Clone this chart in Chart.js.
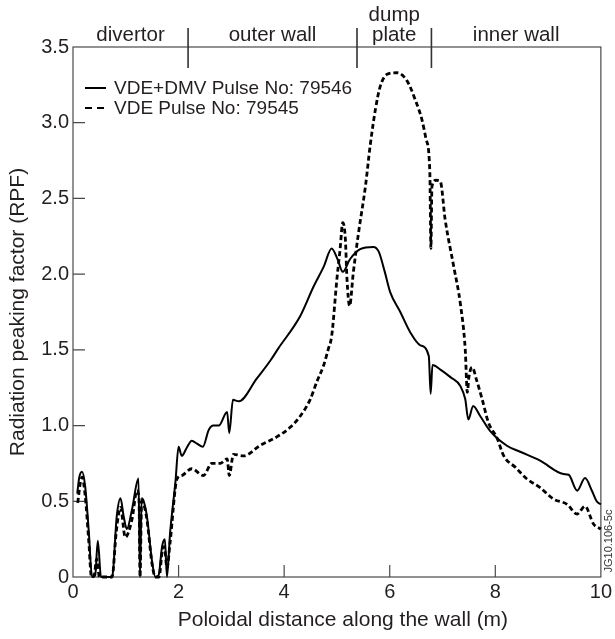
<!DOCTYPE html>
<html><head><meta charset="utf-8">
<script src="https://cdn.jsdelivr.net/npm/chart.js@4.4.1/dist/chart.umd.min.js"></script>
<style>html,body{margin:0;padding:0;background:#fff}canvas{display:block}</style>
</head><body>
<canvas id="c" width="615" height="639"></canvas>
<script>
// ---- data ----
const seriesLabels = ['VDE+DMV Pulse No: 79546', 'VDE Pulse No: 79545'];

const solidX = [0.08,0.12,0.17,0.23,0.30,0.36,0.42,0.47,0.53,0.74,0.83,0.90,0.96,1.02,1.12,1.24,1.27,1.30,1.34,1.40,1.50,1.56,1.62,1.69,1.74,1.78,1.84,1.94,2.00,2.06,2.15,2.25,2.35,2.46,2.57,2.66,2.76,2.92,2.96,3.03,3.14,3.48,3.74,3.89,4.30,4.56,4.75,4.90,5.01,5.11,5.25,5.44,5.69,5.79,5.91,6.01,6.20,6.39,6.58,6.74,6.775,6.81,6.96,7.15,7.34,7.43,7.49,7.58,7.71,7.90,8.22,8.47,8.85,9.29,9.39,9.55,9.70,9.83,9.92,10.0];
const solidY = [0.55,0.66,0.695,0.60,0.295,0,0.01,0.24,0,0,0.405,0.52,0.40,0.317,0.45,0.65,0,0.52,0.50,0.40,0.097,0,0.01,0.207,0.25,0,0.295,0.625,0.86,0.80,0.85,0.90,0.88,0.86,0.97,1.00,1.00,1.09,0.95,1.17,1.16,1.31,1.43,1.51,1.72,1.92,2.05,2.17,2.10,2.015,2.10,2.165,2.18,2.15,2.01,1.88,1.75,1.615,1.53,1.46,1.21,1.40,1.37,1.32,1.26,1.175,1.04,1.13,1.065,0.965,0.867,0.827,0.768,0.68,0.675,0.57,0.653,0.57,0.50,0.48];

const dashX = [0.09,0.14,0.17,0.23,0.30,0.35,0.40,0.45,0.50,0.74,0.82,0.90,0.99,1.12,1.21,1.25,1.27,1.30,1.34,1.40,1.50,1.56,1.63,1.69,1.73,1.78,1.84,1.97,2.06,2.25,2.47,2.63,2.79,2.92,2.96,3.04,3.23,3.55,3.86,4.12,4.30,4.49,4.62,4.75,4.84,4.90,5.00,5.06,5.11,5.16,5.19,5.24,5.31,5.41,5.54,5.63,5.73,5.82,5.95,6.14,6.33,6.48,6.61,6.69,6.76,6.78,6.80,6.88,6.96,7.05,7.21,7.34,7.43,7.47,7.50,7.56,7.65,7.75,7.87,8.03,8.16,8.38,8.60,8.85,9.10,9.36,9.55,9.70,9.86,10.0];
const dashY = [0.49,0.625,0.66,0.54,0.23,0,0.01,0.12,0,0,0.30,0.46,0.262,0.385,0.57,0.52,0,0.50,0.48,0.38,0.08,0,0,0.17,0.20,0.06,0.23,0.647,0.67,0.715,0.67,0.75,0.75,0.78,0.67,0.81,0.80,0.87,0.925,0.99,1.06,1.17,1.29,1.40,1.51,1.59,1.97,2.165,2.34,2.23,1.97,1.79,2.01,2.275,2.58,2.85,3.09,3.24,3.32,3.33,3.275,3.155,3.02,2.89,2.67,2.17,2.58,2.62,2.61,2.36,2.055,1.80,1.505,1.22,1.32,1.385,1.295,1.175,1.02,0.92,0.80,0.724,0.647,0.59,0.515,0.48,0.416,0.467,0.35,0.317];

const xTickValues = [0, 2, 4, 6, 8, 10];
const yTickValues = [0, 0.5, 1.0, 1.5, 2.0, 2.5, 3.0, 3.5];
const regionNames = [['divertor'], ['outer wall'], ['dump', 'plate'], ['inner wall']];
const regionBounds = [0, 2.18, 5.38, 6.79, 10];
const xTitle = 'Poloidal distance along the wall (m)';
const yTitle = 'Radiation peaking factor (RPF)';
const figureId = 'JG10.106-5c';

const INK = '#231f20';
const FONT = '"Liberation Sans", Arial, Helvetica, sans-serif';

const toPts = (xs, ys) => xs.map((v, i) => ({x: v, y: ys[i]}));

const decor = {
  id: 'decor',
  beforeDatasetsDraw(chart) {
    const {ctx, chartArea: a, scales: {x, y}} = chart;
    ctx.save();
    ctx.strokeStyle = '#4a4a4a';
    ctx.lineWidth = 1.2;
    ctx.strokeRect(a.left, a.top, a.right - a.left, a.bottom - a.top);
    ctx.beginPath();
    xTickValues.forEach(v => {
      if (v > x.min && v < x.max) {
        const px = x.getPixelForValue(v);
        ctx.moveTo(px, a.bottom); ctx.lineTo(px, a.bottom - 12);
      }
    });
    yTickValues.forEach(v => {
      if (v > y.min && v < y.max) {
        const py = y.getPixelForValue(v);
        ctx.moveTo(a.left, py); ctx.lineTo(a.left + 12, py);
      }
    });
    ctx.stroke();
    ctx.restore();
  },
  afterDraw(chart) {
    const {ctx, chartArea: a, scales: {x}} = chart;
    ctx.save();
    // region separators
    ctx.strokeStyle = '#333';
    ctx.lineWidth = 1.6;
    ctx.beginPath();
    for (let i = 1; i < regionBounds.length - 1; i++) {
      const px = x.getPixelForValue(regionBounds[i]);
      ctx.moveTo(px, a.top - 19); ctx.lineTo(px, a.top + 21);
    }
    ctx.stroke();
    // region names
    ctx.fillStyle = INK;
    ctx.font = '20.5px ' + FONT;
    ctx.textAlign = 'center';
    ctx.textBaseline = 'middle';
    regionNames.forEach((lines, i) => {
      const cx = (x.getPixelForValue(regionBounds[i]) + x.getPixelForValue(regionBounds[i + 1])) / 2;
      const baseY = a.top - 12;
      lines.forEach((t, j) => {
        ctx.fillText(t, cx, baseY - (lines.length - 1 - j) * 20);
      });
    });
    // x axis title
    ctx.font = '21px ' + FONT;
    ctx.fillText(xTitle, (a.left + a.right) / 2 + 6, a.bottom + 43);
    // legend
    const lx0 = a.left + 12, lx1 = a.left + 33, tx = a.left + 41;
    const rows = [a.top + 41, a.top + 61];
    ctx.strokeStyle = '#000';
    ctx.lineWidth = 2;
    ctx.setLineDash([]);
    ctx.beginPath(); ctx.moveTo(lx0, rows[0]); ctx.lineTo(lx1, rows[0]); ctx.stroke();
    ctx.setLineDash([7, 5]);
    ctx.beginPath(); ctx.moveTo(lx0, rows[1]); ctx.lineTo(lx1 - 2, rows[1]); ctx.stroke();
    ctx.setLineDash([]);
    ctx.textAlign = 'left';
    ctx.font = '19px ' + FONT;
    chart.data.datasets.forEach((ds, i) => ctx.fillText(ds.label, tx, rows[i] + 1));
    // figure id
    ctx.save();
    ctx.translate(a.right + 8, a.bottom - 36);
    ctx.rotate(-Math.PI / 2);
    ctx.font = '11px ' + FONT;
    ctx.fillStyle = '#333';
    ctx.textAlign = 'center';
    ctx.fillText(figureId, 0, 0);
    ctx.restore();
    ctx.restore();
  }
};

new Chart(document.getElementById('c'), {
  type: 'line',
  data: {
    datasets: [
      {label: seriesLabels[0], data: toPts(solidX, solidY), borderColor: '#000', borderWidth: 2,
       pointRadius: 0, cubicInterpolationMode: 'monotone', clip: false, fill: false},
      {label: seriesLabels[1], data: toPts(dashX, dashY), borderColor: '#000', borderWidth: 2.8,
       borderDash: [5, 3], pointRadius: 0, cubicInterpolationMode: 'monotone', clip: false, fill: false}
    ]
  },
  options: {
    responsive: false,
    animation: false,
    devicePixelRatio: 1,
    layout: {padding: {top: 47, right: 14, left: 0, bottom: 0}},
    plugins: {legend: {display: false}, tooltip: {enabled: false}},
    scales: {
      x: {
        type: 'linear', min: 0, max: 10,
        afterBuildTicks: s => { s.ticks = xTickValues.map(v => ({value: v})); },
        afterFit: s => { s.height = 62; },
        grid: {display: false, drawTicks: false},
        border: {display: false},
        ticks: {color: INK, font: {family: FONT, size: 20}, padding: 3, maxRotation: 0,
                callback: v => String(v)},
        title: {display: false}
      },
      y: {
        type: 'linear', min: 0, max: 3.5,
        afterBuildTicks: s => { s.ticks = yTickValues.map(v => ({value: v})); },
        afterFit: s => { s.width = 73; },
        grid: {display: false, drawTicks: false},
        border: {display: false},
        ticks: {color: INK, font: {family: FONT, size: 20}, padding: 4,
                callback: v => v === 0 ? '0' : v.toFixed(1)},
        title: {display: true, text: yTitle, color: INK,
                font: {family: FONT, size: 21}, padding: {top: 6, bottom: 0}}
      }
    }
  },
  plugins: [decor]
});
</script>
</body></html>
